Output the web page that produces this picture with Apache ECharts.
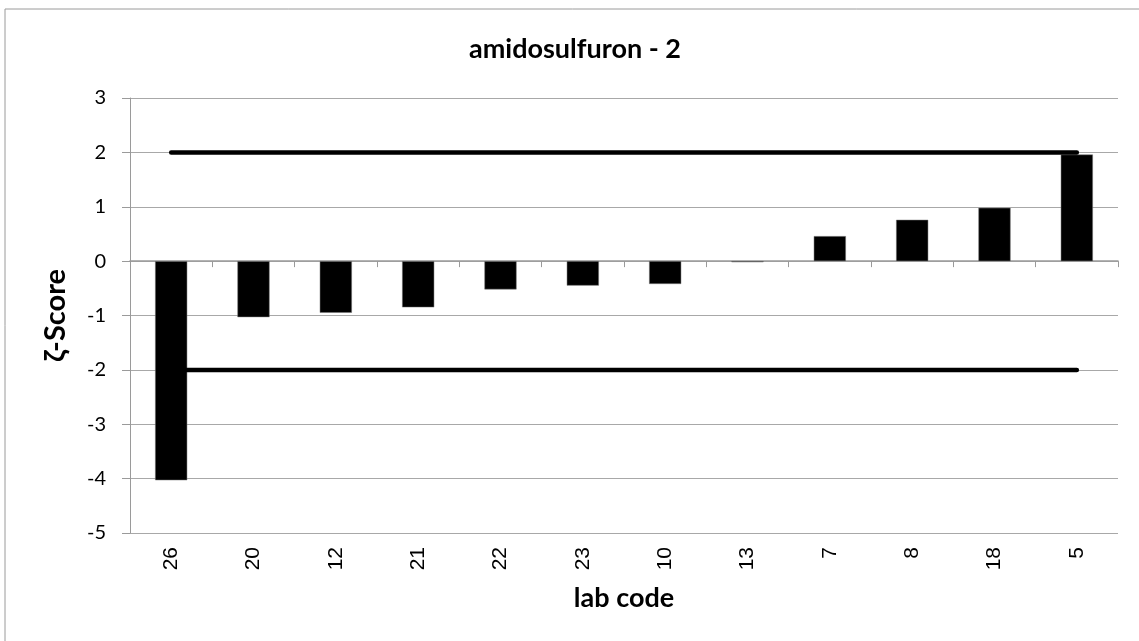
<!DOCTYPE html>
<html>
<head>
<meta charset="utf-8">
<script src="https://cdn.jsdelivr.net/npm/echarts@6/dist/echarts.min.js"></script>
<style>html,body{margin:0;padding:0;background:#fff}#c{width:1139px;height:641px}</style>
</head>
<body>
<div id="c"></div>
<script>
const categories = ['26','20','12','21','22','23','10','13','7','8','18','5'];
const zScores = [-4.03,-1.03,-0.95,-0.85,-0.52,-0.45,-0.42,-0.02,0.46,0.76,0.98,1.96];
const upperLimit = [2,2,2,2,2,2,2,2,2,2,2,2];
const lowerLimit = [-2,-2,-2,-2,-2,-2,-2,-2,-2,-2,-2,-2];
const yTicks = {min:-5, max:3, interval:1};

const chart = echarts.init(document.getElementById('c'));
chart.setOption({
  animation:false,
  backgroundColor:'#fff',
  graphic:[{type:'rect',shape:{x:5,y:9,width:1150,height:650},style:{fill:'none',stroke:'#9a9a9a',lineWidth:1},z:-10}],
  title:{text:'amidosulfuron - 2',left:469,top:36,padding:0,
    textStyle:{fontFamily:'Lato',fontWeight:'bold',fontSize:27,color:'#000'}},
  grid:{left:130,right:21,top:98,bottom:108,containLabel:false},
  xAxis:[{
    type:'category',data:categories,position:'bottom',
    axisLine:{show:false,onZero:false},axisTick:{show:false},
    axisLabel:{rotate:90,fontFamily:'Liberation Sans',fontSize:21,color:'#000',margin:14},
    name:'lab code',nameLocation:'middle',nameGap:52,
    nameTextStyle:{fontFamily:'Lato',fontWeight:'bold',fontSize:27,color:'#000'}
  },{
    type:'category',data:categories,position:'bottom',
    axisLine:{show:true,onZero:true,lineStyle:{color:'#9a9a9a',width:1.5}},
    axisTick:{show:true,inside:false,length:6,lineStyle:{color:'#9a9a9a'}},
    axisLabel:{show:false}
  }],
  yAxis:{
    type:'value',min:yTicks.min,max:yTicks.max,interval:yTicks.interval,
    axisLine:{show:true,lineStyle:{color:'#9a9a9a',width:1}},
    axisTick:{show:true,length:8,lineStyle:{color:'#9a9a9a'}},
    splitLine:{lineStyle:{color:'#a8a8a8',width:1}},
    axisLabel:{fontFamily:'Lato',fontSize:20,color:'#000',margin:24},
    name:'ζ-Score',nameLocation:'middle',nameGap:60,
    nameTextStyle:{fontFamily:'Lato',fontWeight:'bold',fontSize:29,color:'#000'}
  },
  series:[{
    type:'bar',data:zScores,xAxisIndex:0,barWidth:'39%',
    itemStyle:{color:'#000',borderColor:'#777',borderWidth:0.5},z:2
  },{
    type:'line',data:upperLimit,xAxisIndex:0,symbol:'none',
    lineStyle:{color:'#000',width:4.5,cap:'round'},z:3
  },{
    type:'line',data:lowerLimit,xAxisIndex:0,symbol:'none',
    lineStyle:{color:'#000',width:4.5,cap:'round'},z:3
  }]
});
</script>
</body>
</html>
